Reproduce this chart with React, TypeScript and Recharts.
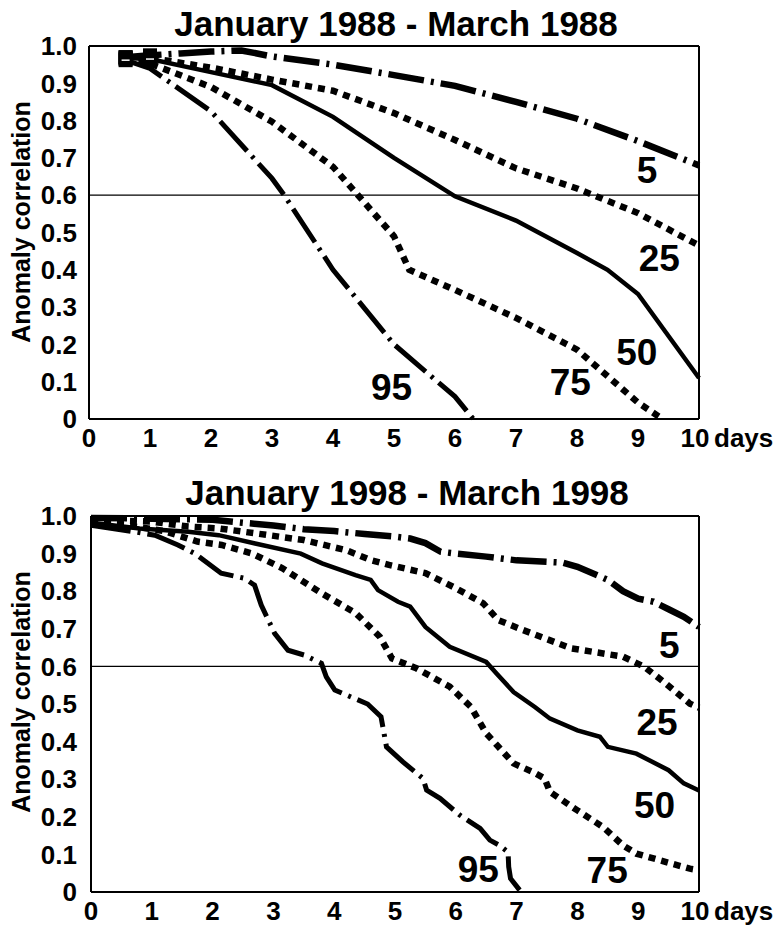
import { LineChart, Line, XAxis, YAxis, ReferenceLine, ReferenceDot } from 'recharts'

const FONT = '"Liberation Sans", Arial, Helvetica, sans-serif'

const xTicks = [0, 1, 2, 3, 4, 5, 6, 7, 8, 9, 10]
const yTicks = [0, 0.1, 0.2, 0.3, 0.4, 0.5, 0.6, 0.7, 0.8, 0.9, 1.0]
const seriesNames = ['5', '25', '50', '75', '95']

// January 1988 - March 1988
const x5_88 = [0.6, 1, 1.5, 2, 2.5, 3, 4, 5, 6, 7, 8, 9, 10]
const y5_88 = [0.97, 0.975, 0.98, 0.985, 0.988, 0.972, 0.95, 0.922, 0.893, 0.85, 0.805, 0.745, 0.68]
const x25_88 = [0.6, 1, 2, 3, 4, 5, 6, 7, 8, 9, 10]
const y25_88 = [0.97, 0.968, 0.942, 0.91, 0.88, 0.82, 0.748, 0.672, 0.618, 0.552, 0.465]
const x50_88 = [0.6, 1, 2, 3, 4, 5, 6, 7, 8, 8.5, 9, 10]
const y50_88 = [0.968, 0.965, 0.93, 0.895, 0.81, 0.7, 0.597, 0.532, 0.445, 0.4, 0.335, 0.11]
const x75_88 = [0.6, 1, 2, 3, 4, 5, 5.25, 6, 7, 8, 9, 9.4]
const y75_88 = [0.965, 0.953, 0.89, 0.797, 0.676, 0.49, 0.4, 0.346, 0.271, 0.186, 0.044, 0]
const x95_88 = [0.6, 1, 2, 3, 3.2, 4, 5, 6, 6.3]
const y95_88 = [0.962, 0.94, 0.825, 0.645, 0.6, 0.4, 0.2, 0.06, 0]

// January 1998 - March 1998
const x5_98 = [0, 1, 2, 2.5, 3, 3.5, 4, 4.5, 5, 5.25, 5.5, 5.75, 6, 6.5, 7, 7.5, 7.75, 8, 8.5, 8.75, 9, 9.25, 9.5, 9.75, 10]
const y5_98 = [0.995, 0.993, 0.99, 0.982, 0.975, 0.965, 0.96, 0.952, 0.945, 0.94, 0.928, 0.905, 0.9, 0.892, 0.882, 0.878, 0.876, 0.865, 0.83, 0.8, 0.78, 0.772, 0.752, 0.732, 0.705]
const x25_98 = [0, 1, 1.6, 2.1, 2.7, 3.5, 4.2, 4.6, 4.9, 5.5, 6, 6.45, 6.7, 7.1, 7.9, 8.75, 9.1, 9.45, 9.85, 10]
const y25_98 = [0.99, 0.985, 0.972, 0.967, 0.954, 0.936, 0.909, 0.883, 0.87, 0.848, 0.808, 0.768, 0.723, 0.697, 0.648, 0.626, 0.599, 0.555, 0.501, 0.49]
const x50_98 = [0, 0.8, 1.6, 2.1, 2.7, 3.45, 3.8, 4.35, 4.6, 4.72, 5.05, 5.25, 5.5, 5.9, 6.5, 6.67, 6.95, 7.3, 7.55, 8, 8.37, 8.5, 8.97, 9.5, 9.75, 10]
const y50_98 = [0.982, 0.967, 0.958, 0.949, 0.927, 0.9, 0.874, 0.843, 0.83, 0.803, 0.772, 0.759, 0.705, 0.652, 0.612, 0.581, 0.532, 0.492, 0.461, 0.43, 0.413, 0.386, 0.368, 0.324, 0.289, 0.27]
const x75_98 = [0, 0.6, 1.2, 1.75, 2.15, 2.65, 3.15, 3.8, 4.35, 4.75, 4.95, 5.35, 5.9, 6.25, 6.5, 6.95, 7.27, 7.46, 7.55, 8, 8.42, 8.75, 8.97, 9.85, 10]
const y75_98 = [0.98, 0.975, 0.96, 0.932, 0.923, 0.9, 0.861, 0.794, 0.742, 0.679, 0.621, 0.595, 0.546, 0.492, 0.422, 0.342, 0.319, 0.302, 0.266, 0.217, 0.173, 0.124, 0.102, 0.062, 0.058]
const x95_98 = [0, 0.72, 1.05, 1.43, 1.71, 2.14, 2.53, 2.69, 2.8, 3.02, 3.24, 3.51, 3.79, 3.87, 4.01, 4.55, 4.77, 4.86, 5.13, 5.46, 5.52, 5.74, 6.07, 6.4, 6.56, 6.72, 6.86, 6.87, 6.9, 7.05]
const y95_98 = [0.975, 0.958, 0.949, 0.923, 0.9, 0.848, 0.834, 0.816, 0.763, 0.688, 0.643, 0.63, 0.608, 0.572, 0.537, 0.5, 0.466, 0.386, 0.346, 0.302, 0.271, 0.249, 0.204, 0.169, 0.138, 0.124, 0.106, 0.067, 0.036, 0.005]

// curve label anchors (data units)
const labelX88 = [9.15, 9.35, 8.98, 7.89, 4.96]
const labelY88 = [0.667, 0.431, 0.181, 0.1, 0.087]
const labelX98 = [9.51, 9.31, 9.27, 8.49, 6.37]
const labelY98 = [0.657, 0.453, 0.231, 0.058, 0.062]

const zip = (xs: number[], ys: number[]) => xs.map((x, i) => ({ x, y: ys[i] }))

const STYLES = [
  { dash: '36 7 3 7', width: 6.5 },
  { dash: '7 6', width: 6.5 },
  { dash: undefined, width: 4.5 },
  { dash: '7 6', width: 6.5 },
  { dash: '40 7 3 7', width: 5 },
]

const XTick = ({ x, y, payload }: any) => {
  const last = payload.value === 10
  return (
    <g>
      <text x={last ? x - 4 : x} y={y + 19} textAnchor="middle" dominantBaseline="central" fontFamily={FONT} fontWeight="bold" fontSize={26} fill="#000">
        {payload.value}
      </text>
      {last && (
        <text x={x + 15} y={y + 19} textAnchor="start" dominantBaseline="central" fontFamily={FONT} fontWeight="bold" fontSize={26} fill="#000">
          days
        </text>
      )}
    </g>
  )
}

const tickLineStyle = { stroke: '#000', strokeWidth: 1.5 }
const frameStyle = { stroke: '#000', strokeWidth: 2 }

interface PanelProps {
  top: number
  height: number
  plotTop: number
  plotBottom: number
  plotLeft: number
  tickGap: number
  series: { x: number; y: number }[][]
  labelX: number[]
  labelY: number[]
  squares?: boolean
}

function Panel({ top, height, plotTop, plotBottom, plotLeft, tickGap, series, labelX, labelY, squares }: PanelProps) {
  const squareDot = (p: any) => {
    if (p.index === 0 || (p.index === 1 && p.payload.x <= 1 && p.value > 0.96)) {
      return (
        <g key={`sq-${p.index}`}>
          <rect x={p.cx - 7} y={p.cy - 7} width={14} height={14} fill="#000" />
          <line x1={p.cx - 4} x2={p.cx + 4} y1={p.cy} y2={p.cy} stroke="#fff" strokeWidth={1.5} />
        </g>
      )
    }
    return <g key={`n-${p.index}`} />
  }
  return (
    <div style={{ position: 'absolute', left: 0, top }}>
      <LineChart width={775} height={height} margin={{ top: plotTop, right: 76, bottom: height - plotBottom - 30, left: 0 }}>
        <XAxis dataKey="x" type="number" domain={[0, 10]} ticks={xTicks} tickLine={false} tickSize={0} tickMargin={0}
          axisLine={frameStyle} height={30} tick={<XTick />} interval={0} />
        <XAxis xAxisId="bi" orientation="bottom" mirror type="number" domain={[0, 10]} ticks={xTicks} height={1}
          axisLine={false} tick={false} tickSize={11} tickLine={tickLineStyle} interval={0} />
        <XAxis xAxisId="t" orientation="top" mirror type="number" domain={[0, 10]} ticks={xTicks} height={1}
          axisLine={frameStyle} tick={false} tickSize={11} tickLine={tickLineStyle} interval={0} />
        <YAxis type="number" domain={[0, 1]} ticks={yTicks} width={plotLeft} tickLine={false} tickSize={0} tickMargin={tickGap}
          axisLine={frameStyle} interval={0}
          tickFormatter={(v: number) => (v === 0 ? '0' : v.toFixed(1))}
          tick={{ fill: '#000', fontFamily: FONT, fontWeight: 'bold', fontSize: 26 }} />
        <YAxis yAxisId="li" orientation="left" mirror type="number" domain={[0, 1]} ticks={yTicks} width={1}
          axisLine={false} tick={false} tickSize={11} tickLine={tickLineStyle} interval={0} />
        <YAxis yAxisId="r" orientation="right" mirror type="number" domain={[0, 1]} ticks={yTicks} width={1}
          axisLine={frameStyle} tick={false} tickSize={11} tickLine={tickLineStyle} interval={0} />
        <ReferenceLine y={0.6} stroke="#000" strokeWidth={1.2} />
        {series.map((d, i) => (
          <Line key={seriesNames[i]} data={d} dataKey="y" type="linear" stroke="#000" strokeWidth={STYLES[i].width}
            strokeDasharray={STYLES[i].dash} dot={squares ? squareDot : false} activeDot={false} isAnimationActive={false} />
        ))}
        {seriesNames.map((name, i) => (
          <ReferenceDot key={`lab-${name}`} x={labelX[i]} y={labelY[i]} r={0} fill="none" stroke="none"
            label={{ value: name, position: 'center', fill: '#000', fontSize: 37, fontWeight: 'bold', fontFamily: FONT }} />
        ))}
      </LineChart>
    </div>
  )
}

const titleStyle = {
  position: 'absolute' as const,
  transform: 'translate(-50%, -50%)',
  whiteSpace: 'nowrap' as const,
  fontFamily: FONT,
  fontWeight: 'bold' as const,
  fontSize: 35,
  lineHeight: 1,
  color: '#000',
}

const yLabelStyle = {
  ...titleStyle,
  fontSize: 25,
  transform: 'translate(-50%, -50%) rotate(-90deg)',
}

export default function App() {
  return (
    <div style={{ position: 'absolute', left: 0, top: 0, width: 775, height: 926, background: '#fff', overflow: 'hidden' }}>
      <Panel top={0} height={460} plotTop={46} plotBottom={419} plotLeft={89} tickGap={12}
        series={[zip(x5_88, y5_88), zip(x25_88, y25_88), zip(x50_88, y50_88), zip(x75_88, y75_88), zip(x95_88, y95_88)]}
        labelX={labelX88} labelY={labelY88} squares />
      <Panel top={460} height={466} plotTop={56} plotBottom={432} plotLeft={91} tickGap={14}
        series={[zip(x5_98, y5_98), zip(x25_98, y25_98), zip(x50_98, y50_98), zip(x75_98, y75_98), zip(x95_98, y95_98)]}
        labelX={labelX98} labelY={labelY98} />
      <div style={{ ...titleStyle, left: 396, top: 23 }}>January 1988 - March 1988</div>
      <div style={{ ...titleStyle, left: 407, top: 492 }}>January 1998 - March 1998</div>
      <div style={{ ...yLabelStyle, left: 21, top: 222 }}>Anomaly correlation</div>
      <div style={{ ...yLabelStyle, left: 21, top: 692 }}>Anomaly correlation</div>
    </div>
  )
}
